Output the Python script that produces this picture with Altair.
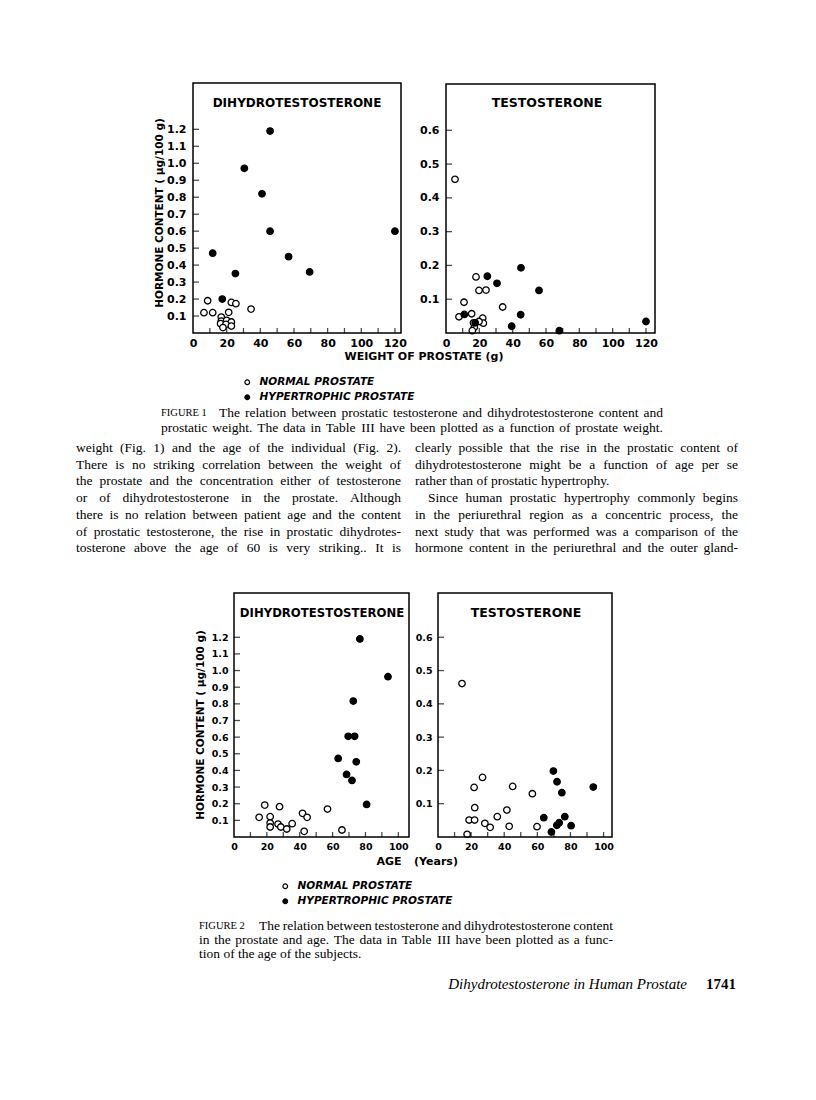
import altair as alt
import pandas as pd

# ---------------- data (read from the scanned page) ----------------
GROUPS = ["NORMAL PROSTATE", "HYPERTROPHIC PROSTATE"]

# Figure 1 - dihydrotestosterone vs prostate weight (g)
F1_DHT_NORMAL_W = [8.7, 6.5, 11.7, 22.8, 25.5, 21.2, 34.5, 16.8, 16.8, 20.0, 22.8, 16.4, 19.6, 22.8, 17.8]
F1_DHT_NORMAL_V = [0.19, 0.12, 0.12, 0.18, 0.173, 0.122, 0.141, 0.094, 0.07, 0.075, 0.065, 0.055, 0.051, 0.041, 0.032]
F1_DHT_HYPER_W = [45.8, 30.5, 41.0, 45.8, 120.0, 11.7, 56.8, 69.3, 25.2, 17.4]
F1_DHT_HYPER_V = [1.19, 0.97, 0.82, 0.60, 0.60, 0.47, 0.45, 0.36, 0.35, 0.20]

# Figure 1 - testosterone vs prostate weight (g)
F1_T_NORMAL_W = [5.4, 18.0, 19.8, 24.0, 10.8, 34.0, 7.8, 15.4, 22.0, 22.4, 19.8, 17.0, 15.8, 16.5]
F1_T_NORMAL_V = [0.455, 0.166, 0.126, 0.127, 0.091, 0.077, 0.048, 0.057, 0.044, 0.029, 0.034, 0.017, 0.007, 0.03]
F1_T_HYPER_W = [45.0, 24.8, 30.6, 55.8, 11.0, 44.8, 39.4, 17.5, 68.0, 120.0]
F1_T_HYPER_V = [0.193, 0.168, 0.147, 0.126, 0.055, 0.054, 0.02, 0.03, 0.007, 0.034]

# Figure 2 - dihydrotestosterone vs age (years)
F2_DHT_NORMAL_A = [15.3, 18.7, 22.0, 22.0, 22.0, 27.7, 26.8, 28.5, 32.1, 35.4, 41.7, 44.5, 42.7, 56.9, 65.7]
F2_DHT_NORMAL_V = [0.118, 0.192, 0.122, 0.084, 0.06, 0.182, 0.078, 0.06, 0.048, 0.08, 0.142, 0.118, 0.034, 0.168, 0.042]
F2_DHT_HYPER_A = [76.6, 93.7, 72.6, 69.5, 73.4, 63.4, 74.4, 68.5, 71.8, 80.7]
F2_DHT_HYPER_V = [1.19, 0.963, 0.817, 0.605, 0.605, 0.472, 0.452, 0.376, 0.34, 0.196]

# Figure 2 - testosterone vs age (years)
F2_T_NORMAL_A = [14.5, 26.9, 21.8, 45.1, 57.0, 22.2, 18.8, 22.1, 28.3, 31.5, 35.8, 41.6, 43.0, 17.6, 59.8]
F2_T_NORMAL_V = [0.461, 0.179, 0.149, 0.152, 0.13, 0.088, 0.051, 0.051, 0.041, 0.029, 0.061, 0.081, 0.032, 0.008, 0.031]
F2_T_HYPER_A = [63.9, 69.7, 71.9, 74.8, 76.6, 71.8, 73.2, 68.5, 80.4, 93.8]
F2_T_HYPER_V = [0.058, 0.198, 0.166, 0.133, 0.061, 0.035, 0.043, 0.015, 0.034, 0.15]

# tick values / labels
F1_X_LABELS = [0, 20, 40, 60, 80, 100, 120]
F1_X_TICKS = [10, 20, 30, 40, 50, 60, 70, 80, 90, 100, 110, 120]
F2_X_LABELS = [0, 20, 40, 60, 80, 100]
F2_X_TICKS = [10, 20, 30, 40, 50, 60, 70, 80, 90, 100]
DHT_Y_TICKS = [0.1, 0.2, 0.3, 0.4, 0.5, 0.6, 0.7, 0.8, 0.9, 1.0, 1.1, 1.2]
T_Y_TICKS = [0.1, 0.2, 0.3, 0.4, 0.5, 0.6]

# texts
PANEL_DHT = "DIHYDROTESTOSTERONE"
PANEL_T = "TESTOSTERONE"
Y_TITLE = "HORMONE  CONTENT  ( \u00b5g/100 g)"
F1_X_TITLE = "WEIGHT OF PROSTATE (g)"
F2_X_TITLE = ["AGE", "(Years)"]
CAPTION1_HEAD = "FIGURE 1"
CAPTION1 = [
    "The relation between prostatic testosterone and dihydrotestosterone content and",
    "prostatic weight. The data in Table III have been plotted as a function of prostate weight.",
]
CAPTION2_HEAD = "FIGURE 2"
CAPTION2 = [
    "The relation between testosterone and dihydrotestosterone content",
    "in the prostate and age. The data in Table III have been plotted as a func-",
    "tion of the age of the subjects.",
]
BODY_LEFT = [
    "weight (Fig. 1) and the age of the individual (Fig. 2).",
    "There is no striking correlation between the weight of",
    "the prostate and the concentration either of testosterone",
    "or of dihydrotestosterone in the prostate. Although",
    "there is no relation between patient age and the content",
    "of prostatic testosterone, the rise in prostatic dihydrotes-",
    "tosterone above the age of 60 is very striking.. It is",
]
BODY_RIGHT = [
    "clearly possible that the rise in the prostatic content of",
    "dihydrotestosterone might be a function of age per se",
    "rather than of prostatic hypertrophy.",
    "Since human prostatic hypertrophy commonly begins",
    "in the periurethral region as a concentric process, the",
    "next study that was performed was a comparison of the",
    "hormone content in the periurethral and the outer gland-",
]
FOOTER_TITLE = "Dihydrotestosterone in Human Prostate"
FOOTER_PAGE = "1741"

# ---------------- layout ----------------
W, H = 800, 1084          # drawing canvas = page minus the 8px margin
M = 8                     # page margin (page px -> canvas px)
SANS = "DejaVu Sans"
SERIF = "Liberation Serif"

# Times / Liberation Serif advance widths (1/1000 em) for justification
_TW = dict(zip("abcdefghijklmnopqrstuvwxyz",
               [444, 500, 444, 500, 444, 333, 500, 500, 278, 278, 500, 278, 778,
                500, 500, 500, 500, 333, 389, 278, 500, 500, 722, 500, 500, 444]))
_TW.update(zip("ABCDEFGHIJKLMNOPQRSTUVWXYZ",
               [722, 667, 667, 722, 611, 556, 722, 722, 333, 389, 722, 611, 889,
                722, 722, 556, 722, 667, 556, 611, 722, 722, 944, 722, 722, 611]))
_TW.update({c: 500 for c in "0123456789"})
_TW.update({" ": 250, ".": 250, ",": 250, "-": 333, "(": 333, ")": 333, ":": 278})


def _wwidth(word, size):
    return sum(_TW.get(c, 500) for c in word) * size / 1000.0


def typeset(lines, x0, x1, y0, dy, size, ragged=(), indents=None):
    """Lay words of justified lines out; returns one text layer."""
    rows = []
    for i, line in enumerate(lines):
        words = line.split()
        start = x0 + (indents or {}).get(i, 0)
        widths = [_wwidth(w, size) for w in words]
        if i in ragged or len(words) < 2:
            gap = _TW[" "] * size / 1000.0
        else:
            gap = (x1 - start - sum(widths)) / (len(words) - 1)
        x = start
        for w, wd in zip(words, widths):
            rows.append({"w": w, "px": x - M, "py": y0 + dy * i - M})
            x += wd + gap
    df = pd.DataFrame(rows)
    return alt.Chart(df).mark_text(
        align="left", baseline="middle", font=SERIF, fontSize=size,
        fontWeight="normal", color="black",
    ).encode(
        text=alt.Text("w:N"),
        x=alt.X("px:Q", scale=None, axis=None),
        y=alt.Y("py:Q", scale=None, axis=None),
    )


def panel(xn, yn, xh, yh, xdom, ydom, xpix, ypix, xlabels, xticks, yticks,
          legend=None, lab_size=10.5, lab_pad=7):
    xr = [xpix[0] - M, xpix[1] - M]
    yr = [ypix[0] - M, ypix[1] - M]
    xs = alt.Scale(domain=xdom, range=xr, nice=False, zero=False)
    ys = alt.Scale(domain=ydom, range=yr, nice=False, zero=False)
    lab_expr = "(datum.value % 20 == 0) ? datum.label : ''"
    xax = alt.Axis(
        orient="bottom", offset=yr[0] - H, values=xlabels,
        labelExpr=lab_expr, ticks=False, domain=False, grid=False,
        title=None, labelFont=SANS, labelFontWeight="bold",
        labelFontSize=lab_size, labelColor="black", labelPadding=4,
        labelFlush=False, labelOverlap=False)
    yax = alt.Axis(
        orient="left", offset=-xr[0], values=yticks, format=".1f",
        ticks=False, domain=False, grid=False, title=None,
        labelFont=SANS, labelFontWeight="bold", labelFontSize=lab_size,
        labelColor="black", labelPadding=lab_pad, labelFlush=False,
        labelOverlap=False)

    pts = pd.DataFrame({
        "x": xn + xh,
        "y": yn + yh,
        "g": [GROUPS[0]] * len(xn) + [GROUPS[1]] * len(xh),
    })
    frame_df = pd.DataFrame({"x": [xdom[0]], "x1": [xdom[1]],
                             "y": [ydom[0]], "y1": [ydom[1]]})
    yt = pd.DataFrame({"y": yticks, "x": [xdom[0]] * len(yticks)})
    xt = pd.DataFrame({"x": xticks, "y": [ydom[0]] * len(xticks)})

    X = alt.X("x:Q", scale=xs, axis=xax)
    Y = alt.Y("y:Q", scale=ys, axis=yax)

    points = alt.Chart(pts).mark_point(
        shape="circle", filled=True, stroke="black", strokeWidth=1.3,
        size=42, opacity=1, fillOpacity=1,
    ).encode(
        x=X, y=Y,
        fill=alt.Fill("g:N", scale=alt.Scale(domain=GROUPS, range=["white", "black"]),
                      legend=legend),
    )
    frame = alt.Chart(frame_df).mark_rect(
        fill="transparent", stroke="black", strokeWidth=1.5
    ).encode(x=X, x2="x1:Q", y=Y, y2="y1:Q")
    ytick = alt.Chart(yt).mark_tick(
        orient="horizontal", size=6, thickness=1.3, color="black", xOffset=3
    ).encode(x=X, y=Y)
    xtick = alt.Chart(xt).mark_tick(
        orient="vertical", size=5, thickness=1.3, color="black", yOffset=-2.5
    ).encode(x=X, y=Y)
    return alt.layer(points, frame, ytick, xtick)


def legend_at(x, y):
    return alt.Legend(
        orient="none", legendX=x - M, legendY=y - M, title=None,
        labelFont=SANS, labelFontStyle="italic", labelFontWeight="bold",
        labelFontSize=10.5, labelColor="black", symbolType="circle",
        symbolSize=22, symbolStrokeColor="black", symbolStrokeWidth=1.2,
        rowPadding=4, labelOffset=7,
    )


def text(s, x, y, size, font=SANS, weight="bold", style="normal",
         align="left", angle=0):
    return alt.Chart(pd.DataFrame({"t": [s]})).mark_text(
        align=align, baseline="middle", font=font, fontSize=size,
        fontWeight=weight, fontStyle=style, angle=angle, color="black",
    ).encode(text=alt.Text("t:N"), x=alt.value(x - M), y=alt.value(y - M))


# ---------------- panels ----------------
p1 = panel(F1_DHT_NORMAL_W, F1_DHT_NORMAL_V, F1_DHT_HYPER_W, F1_DHT_HYPER_V,
           [0, 123.6], [0, 1.473], [193, 401], [333, 83],
           F1_X_LABELS, F1_X_TICKS, DHT_Y_TICKS, legend=legend_at(242, 377), lab_size=11)
p2 = panel(F1_T_NORMAL_W, F1_T_NORMAL_V, F1_T_HYPER_W, F1_T_HYPER_V,
           [0, 125.4], [0, 0.737], [446, 655], [333, 84],
           F1_X_LABELS, F1_X_TICKS, T_Y_TICKS, legend=None, lab_size=11)
p3 = panel(F2_DHT_NORMAL_A, F2_DHT_NORMAL_V, F2_DHT_HYPER_A, F2_DHT_HYPER_V,
           [0, 106.5], [0, 1.466], [234, 409], [837, 593],
           F2_X_LABELS, F2_X_TICKS, DHT_Y_TICKS, legend=legend_at(280, 881),
           lab_size=9.5, lab_pad=6)
p4 = panel(F2_T_NORMAL_A, F2_T_NORMAL_V, F2_T_HYPER_A, F2_T_HYPER_V,
           [0, 105.1], [0, 0.733], [438, 612], [837, 593],
           F2_X_LABELS, F2_X_TICKS, T_Y_TICKS, legend=None,
           lab_size=9.5, lab_pad=6)

# ---------------- texts ----------------
texts = [
    text(PANEL_DHT, 297, 103, 12, align="center"),
    text(PANEL_T, 547, 103, 12.5, align="center"),
    text(Y_TITLE, 160, 213, 10.5, align="center", angle=270),
    text(F1_X_TITLE, 424, 357, 11, align="center"),
    text(CAPTION1_HEAD, 161, 413, 10.5, font=SERIF, weight="normal"),
    text(PANEL_DHT, 322, 613, 11.7, align="center"),
    text(PANEL_T, 526, 613, 12.5, align="center"),
    text(Y_TITLE, 201, 725, 10.5, align="center", angle=270),
    text(F2_X_TITLE[0], 389, 862, 11, align="center"),
    text(F2_X_TITLE[1], 436, 862, 11, align="center"),
    text(CAPTION2_HEAD, 199, 926, 10.5, font=SERIF, weight="normal"),
    text(FOOTER_TITLE, 687, 984, 15, font=SERIF, weight="normal", style="italic",
         align="right"),
    text(FOOTER_PAGE, 736, 984, 15, font=SERIF, weight="bold", align="right"),
    # captions (justified)
    typeset(CAPTION1[:1], 219, 663, 413, 15, 13.5),
    typeset(CAPTION1[1:], 161, 663, 428, 15, 13.5),
    typeset(CAPTION2[:1], 259, 613, 926, 14, 13.5),
    typeset(CAPTION2[1:], 199, 613, 940, 14, 13.5, ragged=(1,)),
    # body text (two justified columns)
    typeset(BODY_LEFT, 76, 401, 448, 16.7, 13.5),
    typeset(BODY_RIGHT, 415, 738, 448, 16.7, 13.5, ragged=(2,), indents={3: 13}),
]

chart = alt.layer(p1, p2, p3, p4, *texts).resolve_scale(
    x="independent", y="independent", fill="independent"
).properties(
    width=W, height=H, autosize=alt.AutoSizeParams(type="none"), padding=0,
    background="white",
).configure_view(strokeWidth=0)

chart.save("out.html", embed_options={"renderer": "svg", "actions": False})
